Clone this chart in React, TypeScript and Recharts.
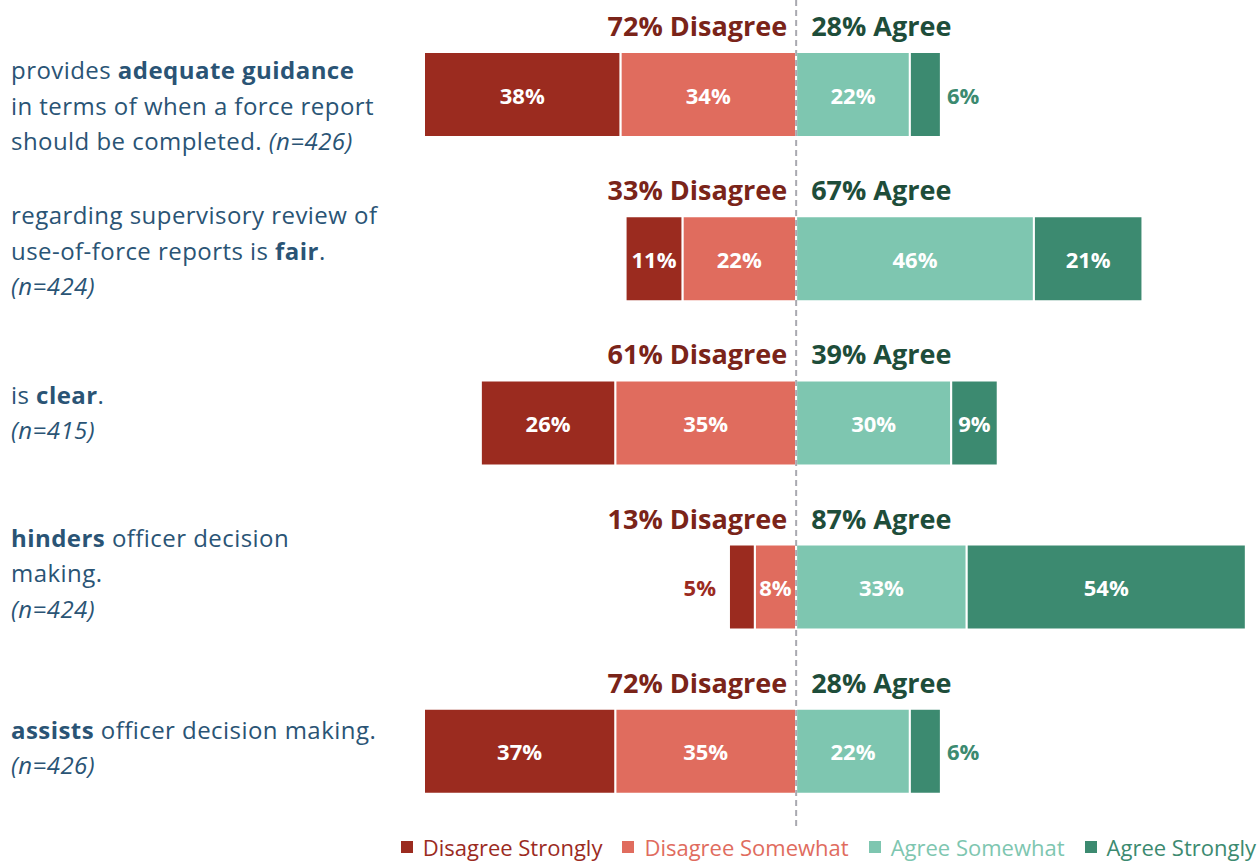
import React from 'react';
import { BarChart, Bar, XAxis, YAxis, ReferenceLine, LabelList, Legend } from 'recharts';

const categories = ['Q1', 'Q2', 'Q3', 'Q4', 'Q5'];
const disagreeStrongly = [38, 11, 26, 5, 37];
const disagreeSomewhat = [34, 22, 35, 8, 35];
const agreeSomewhat = [22, 46, 30, 33, 22];
const agreeStrongly = [6, 21, 9, 54, 6];
const disagreeTotal = [72, 33, 61, 13, 72];
const agreeTotal = [28, 67, 39, 87, 28];

type Seg = { t: string; b?: boolean; i?: boolean };
const categoryLines: Seg[][][] = [
  [
    [{ t: 'provides ' }, { t: 'adequate guidance', b: true }],
    [{ t: 'in terms of when a force report' }],
    [{ t: 'should be completed. ' }, { t: '(n=426)', i: true }],
  ],
  [
    [{ t: 'regarding supervisory review of' }],
    [{ t: 'use-of-force reports is ' }, { t: 'fair', b: true }, { t: '.' }],
    [{ t: '(n=424)', i: true }],
  ],
  [
    [{ t: 'is ' }, { t: 'clear', b: true }, { t: '.' }],
    [{ t: '(n=415)', i: true }],
  ],
  [
    [{ t: 'hinders', b: true }, { t: ' officer decision' }],
    [{ t: 'making.' }],
    [{ t: '(n=424)', i: true }],
  ],
  [
    [{ t: 'assists', b: true }, { t: ' officer decision making.' }],
    [{ t: '(n=426)', i: true }],
  ],
];

const seriesNames = ['Disagree Strongly', 'Disagree Somewhat', 'Agree Somewhat', 'Agree Strongly'];
const seriesColors = ['#9B2B1F', '#E06C5E', '#7EC6B0', '#3C8A70'];

const FONT = '"Open Sans", sans-serif';
const TEXT_COLOR = '#2A5475';
const HEAD_RED = '#7A2419';
const HEAD_GREEN = '#1E4D3A';
const labelFirstLineOffset = [-25, -44, -29, -50, -22];
const LINE_H = 35.5;

const data = categories.map((c, i) => ({
  cat: c,
  idx: i,
  dSom: -disagreeSomewhat[i],
  dStr: -disagreeStrongly[i],
  aSom: agreeSomewhat[i],
  aStr: agreeStrongly[i],
}));

const CategoryTick = (props: any) => {
  const { y, payload } = props;
  const i = categories.indexOf(payload.value);
  const lines = categoryLines[i] || [];
  return (
    <g>
      {lines.map((line, li) => (
        <text
          key={li}
          x={11}
          y={y + labelFirstLineOffset[i] + li * LINE_H}
          dominantBaseline="central"
          fill={TEXT_COLOR}
          fontSize={24}
          letterSpacing={0.45}
          fontFamily={FONT}
        >
          {line.map((s, si) => (
            <tspan key={si} fontWeight={s.b ? 700 : 400} fontStyle={s.i ? 'italic' : 'normal'}>
              {s.t}
            </tspan>
          ))}
        </text>
      ))}
    </g>
  );
};

const LABEL_SIZE = 22;

const makeSegLabel = (side: 'left' | 'right', color: string) => (props: any) => {
  const { x, y, width, height, value } = props;
  const v = Math.abs(Number(value));
  const left = Math.min(x, x + width);
  const w = Math.abs(width);
  const cy = y + height / 2;
  if (v >= 7) {
    return (
      <text x={left + w / 2} y={cy} textAnchor="middle" dominantBaseline="central" fill="#fff" fontSize={LABEL_SIZE} fontWeight={700} fontFamily={FONT}>
        {v}%
      </text>
    );
  }
  if (side === 'right') {
    return (
      <text x={left + w + 6} y={cy} textAnchor="start" dominantBaseline="central" fill={color} fontSize={LABEL_SIZE} fontWeight={700} fontFamily={FONT}>
        {v}%
      </text>
    );
  }
  return (
    <text x={left - 13} y={cy} textAnchor="end" dominantBaseline="central" fill={color} fontSize={LABEL_SIZE} fontWeight={700} fontFamily={FONT}>
      {v}%
    </text>
  );
};

const HeaderLabel = (props: any) => {
  const { x, y, value } = props;
  const i = Number(value);
  return (
    <g>
      <text x={x - 9} y={y - 16} textAnchor="end" fill={HEAD_RED} fontSize={27} fontWeight={700} fontFamily={FONT}>
        {disagreeTotal[i]}% Disagree
      </text>
      <text x={x + 15} y={y - 16} textAnchor="start" fill={HEAD_GREEN} fontSize={27} fontWeight={700} fontFamily={FONT}>
        {agreeTotal[i]}% Agree
      </text>
    </g>
  );
};

const LegendContent = () => (
  <div
    style={{
      display: 'flex',
      justifyContent: 'flex-end',
      alignItems: 'center',
      paddingRight: 4,
      height: 28,
      width: 1256,
      whiteSpace: 'nowrap',
      fontFamily: FONT,
    }}
  >
    {seriesNames.map((n, i) => (
      <div key={n} style={{ display: 'flex', alignItems: 'center', marginLeft: 20, whiteSpace: 'nowrap' }}>
        <div style={{ width: 12, height: 12, background: seriesColors[i], marginRight: 10 }} />
        <span style={{ color: seriesColors[i], fontSize: 22, lineHeight: '28px' }}>{n}</span>
      </div>
    ))}
  </div>
);

const ZeroLine = (props: any) => {
  const { x1, y1, y2 } = props;
  return <line x1={x1} x2={x1} y1={0} y2={Math.max(y1, y2) - 3} stroke="#A9A9B0" strokeWidth={2} strokeDasharray="6 4" />;
};

export default function App() {
  return (
    <div style={{ position: 'absolute', left: 0, top: 0, width: 1260, height: 861, background: '#fff' }}>
      <BarChart
        width={1260}
        height={861}
        data={data}
        layout="vertical"
        stackOffset="sign"
        margin={{ top: 12, right: 9, bottom: 0, left: 423 }}
      >
        <XAxis type="number" domain={[-72, 88]} allowDataOverflow hide ticks={[-72, 0, 88]} />
        <YAxis type="category" dataKey="cat" width={1} axisLine={false} tickLine={false} tick={<CategoryTick />} />
        <Legend
          verticalAlign="bottom"
          height={28}
          wrapperStyle={{ left: 0, width: 1260 }}
          content={<LegendContent />}
        />
        <Bar dataKey="dSom" stackId="s" fill={seriesColors[1]} stroke="#fff" strokeWidth={2} barSize={85} isAnimationActive={false}>
          <LabelList dataKey="dSom" content={makeSegLabel('left', seriesColors[1])} />
        </Bar>
        <Bar dataKey="dStr" stackId="s" fill={seriesColors[0]} stroke="#fff" strokeWidth={2} barSize={85} isAnimationActive={false}>
          <LabelList dataKey="dStr" content={makeSegLabel('left', seriesColors[0])} />
        </Bar>
        <Bar dataKey="aSom" stackId="s" fill={seriesColors[2]} stroke="#fff" strokeWidth={2} barSize={85} isAnimationActive={false}>
          <LabelList dataKey="aSom" content={makeSegLabel('right', seriesColors[2])} />
          <LabelList dataKey="idx" content={<HeaderLabel />} />
        </Bar>
        <Bar dataKey="aStr" stackId="s" fill={seriesColors[3]} stroke="#fff" strokeWidth={2} barSize={85} isAnimationActive={false}>
          <LabelList dataKey="aStr" content={makeSegLabel('right', seriesColors[3])} />
        </Bar>
        <ReferenceLine x={0} shape={<ZeroLine />} />
      </BarChart>
    </div>
  );
}
